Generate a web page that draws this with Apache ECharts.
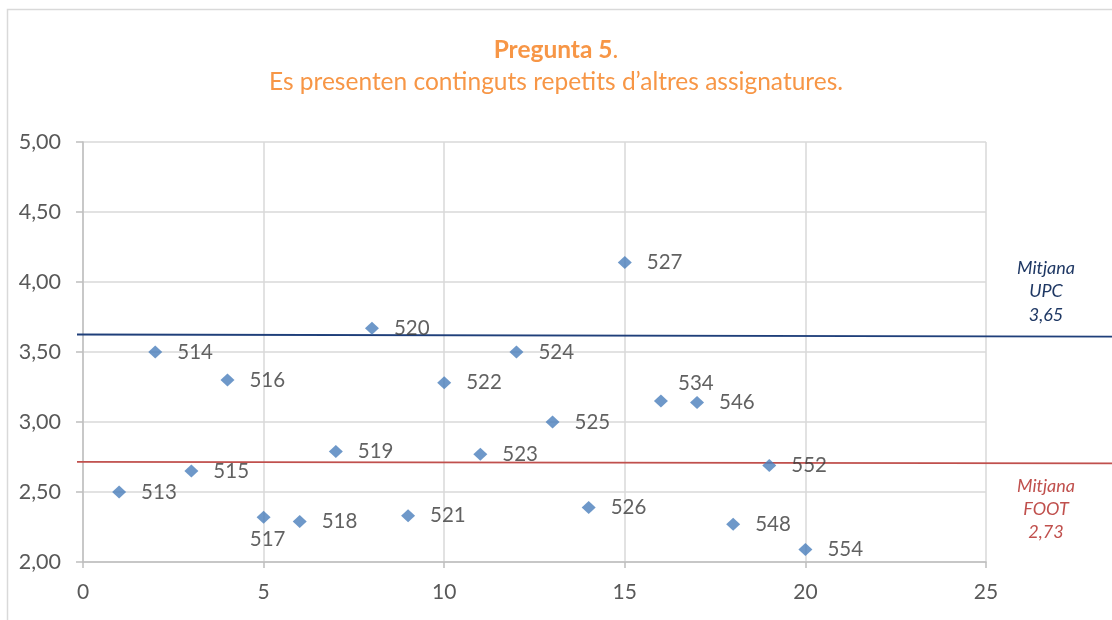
<!DOCTYPE html>
<html>
<head>
<meta charset="utf-8">
<script src="https://cdn.jsdelivr.net/npm/echarts@6/dist/echarts.min.js"></script>
<style>
  html, body { margin: 0; padding: 0; background: #ffffff; }
  #chart { width: 1112px; height: 620px; }
</style>
</head>
<body>
<div id="chart"></div>
<script>
// ---- data ----
const pointIds = ['513','514','515','516','517','518','519','520','521','522','523','524','525','526','527','534','546','548','552','554'];
const pointX   = [1,2,3,4,5,6,7,8,9,10,11,12,13,14,15,16,17,18,19,20];
const pointY   = [2.50,3.50,2.65,3.30,2.32,2.29,2.79,3.67,2.33,3.28,2.77,3.50,3.00,2.39,4.14,3.15,3.14,2.27,2.69,2.09];
const upcLine  = [3.625, 3.61];   // drawn line, left end / right end
const footLine = [2.715, 2.705];
const upcLabel  = ['Mitjana', 'UPC', '3,65'];
const footLabel = ['Mitjana', 'FOOT', '2,73'];
const titleBold = 'Pregunta 5';
const titleLine2 = 'Es presenten continguts repetits d\u2019altres assignatures.';
const xTicks = { min: 0, max: 25, interval: 5 };
const yTicks = { min: 2, max: 5, interval: 0.5 };

// ---- chart ----
const FONT = 'Lato';
const labelOverrides = {
  '517': { position: 'bottom', distance: 5, offset: [4, 0] },
  '534': { position: 'top', distance: 0, offset: [35, -1] }
};

const seriesData = pointX.map((x, i) => {
  const d = { value: [x, pointY[i]], name: pointIds[i] };
  if (labelOverrides[pointIds[i]]) d.label = labelOverrides[pointIds[i]];
  return d;
});

const chart = echarts.init(document.getElementById('chart'), null, { renderer: 'canvas' });

const option = {
  animation: false,
  backgroundColor: '#ffffff',
  title: {
    text: '{b|' + titleBold + '}{n|.}\n{n|' + titleLine2 + '}',
    left: 'center',
    top: 29,
    textStyle: {
      rich: {
        b: { fontFamily: FONT, fontSize: 24.5, fontWeight: 'bold', color: '#F79646', lineHeight: 32 },
        n: { fontFamily: FONT, fontSize: 24.5, fontWeight: 'normal', color: '#F79646', lineHeight: 32 }
      }
    }
  },
  graphic: [
    {
      type: 'rect', silent: true, z: -10,
      shape: { x: 7.5, y: 9.5, width: 1300, height: 800 },
      style: { fill: 'none', stroke: '#d9d9d9', lineWidth: 1.5 }
    },
    {
      type: 'text', x: 1046, y: 256, silent: true,
      style: {
        text: upcLabel.join('\n'), align: 'center', verticalAlign: 'top',
        fontFamily: FONT, fontSize: 18, fontStyle: 'italic', lineHeight: 23.5, fill: '#1F3864'
      }
    },
    {
      type: 'text', x: 1046, y: 475, silent: true,
      style: {
        text: footLabel.join('\n'), align: 'center', verticalAlign: 'top',
        fontFamily: FONT, fontSize: 18, fontStyle: 'italic', lineHeight: 23, fill: '#C0504D'
      }
    }
  ],
  grid: [
    { left: 83, top: 142, width: 903, height: 420, containLabel: false },
    { left: 77, top: 142, right: 0, height: 420, containLabel: false }
  ],
  xAxis: [
    {
      type: 'value', gridIndex: 0,
      min: xTicks.min, max: xTicks.max, interval: xTicks.interval,
      axisLine: { show: true, lineStyle: { color: '#bfbfbf', width: 1.5 } },
      axisTick: { show: true, length: 6, lineStyle: { color: '#bfbfbf', width: 1.5 } },
      splitLine: { show: true, lineStyle: { color: '#d9d9d9', width: 1.5 } },
      axisLabel: { color: '#595959', fontFamily: FONT, fontSize: 21, margin: 20 }
    },
    { type: 'value', gridIndex: 1, min: 0, max: 1, show: false }
  ],
  yAxis: [
    {
      type: 'value', gridIndex: 0,
      min: yTicks.min, max: yTicks.max, interval: yTicks.interval,
      axisLine: { show: true, lineStyle: { color: '#bfbfbf', width: 1.5 } },
      axisTick: { show: true, length: 7, lineStyle: { color: '#bfbfbf', width: 1.5 } },
      splitLine: { show: true, lineStyle: { color: '#d9d9d9', width: 1.5 } },
      axisLabel: {
        color: '#595959', fontFamily: FONT, fontSize: 21.5, margin: 22,
        formatter: v => v.toFixed(2).replace('.', ',')
      }
    },
    { type: 'value', gridIndex: 1, min: yTicks.min, max: yTicks.max, show: false }
  ],
  series: [
    {
      type: 'line', xAxisIndex: 1, yAxisIndex: 1,
      data: [[0, upcLine[0]], [1, upcLine[1]]],
      symbol: 'none', silent: true, z: 1,
      lineStyle: { color: '#1F3F7A', width: 1.8 }
    },
    {
      type: 'line', xAxisIndex: 1, yAxisIndex: 1,
      data: [[0, footLine[0]], [1, footLine[1]]],
      symbol: 'none', silent: true, z: 1,
      lineStyle: { color: '#C0504D', width: 1.8 }
    },
    {
      type: 'scatter', xAxisIndex: 0, yAxisIndex: 0, z: 5,
      symbol: 'diamond', symbolSize: [14, 13],
      itemStyle: { color: '#4A7EBB' },
      data: seriesData,
      label: {
        show: true, position: 'right', distance: 15,
        formatter: '{b}', color: '#3a3a3a', fontFamily: FONT, fontSize: 20.5
      }
    }
  ]
};
chart.setOption(option);
</script>
</body>
</html>
